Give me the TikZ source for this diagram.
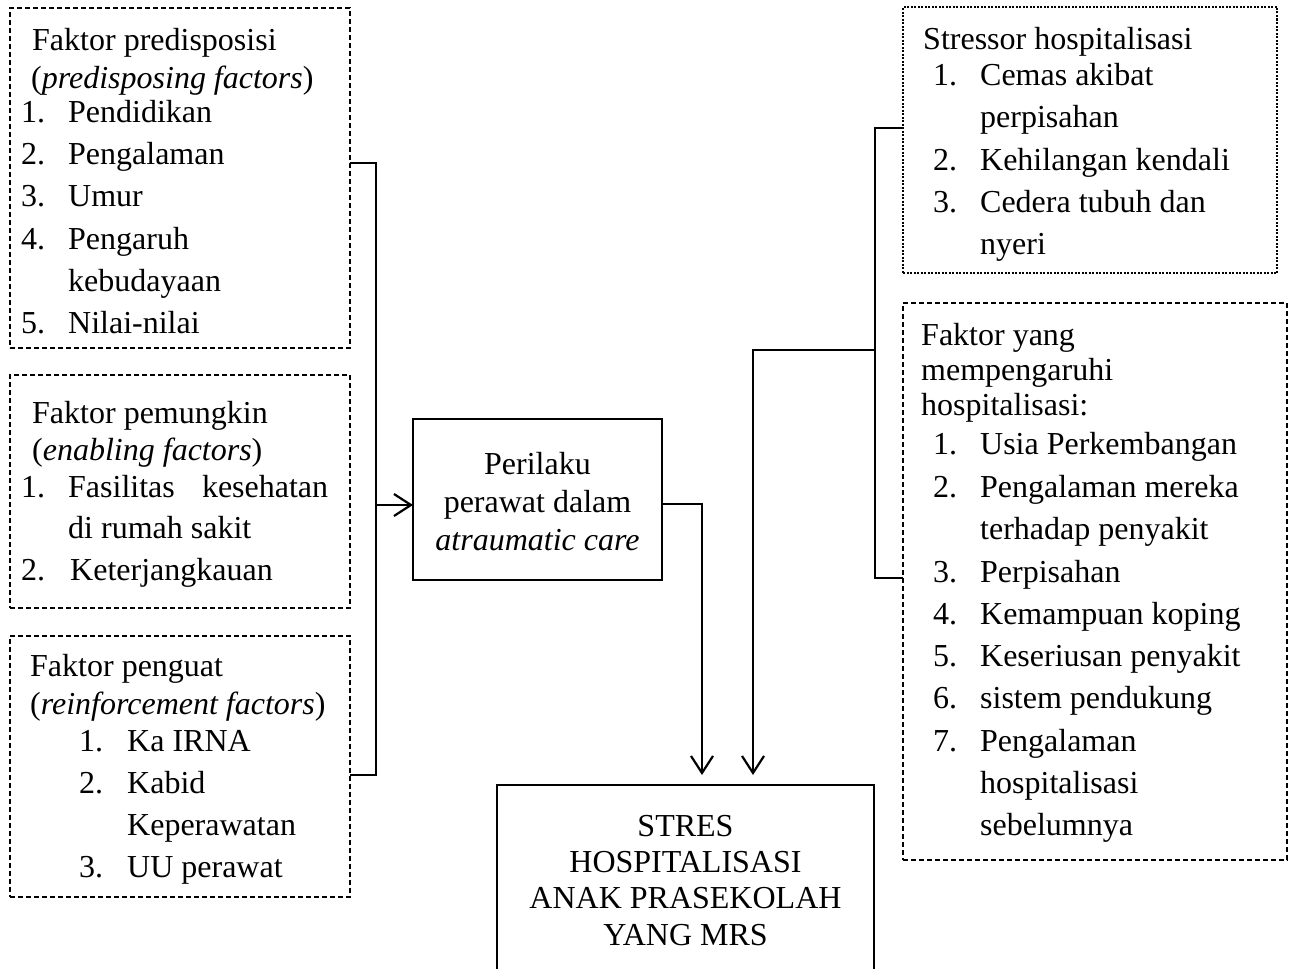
\documentclass[tikz,border=0pt]{standalone}
\usepackage{fontspec}
\setmainfont{Liberation Serif}
\usetikzlibrary{arrows.meta}
\newcommand\Tline[4]{\node[txt] (#1) at (#2,#3) {#4};}
\newcommand\Cline[4]{\node[ctxt] (#1) at (#2,#3) {#4};}
\newcommand\Num[1]{\makebox[47pt][l]{#1}}
\begin{document}
\begin{tikzpicture}[x=1pt,y=-1pt,
  txt/.style={anchor=base west, inner sep=0pt, font=\fontsize{32}{38}\selectfont},
  ctxt/.style={anchor=base, inner sep=0pt, font=\fontsize{32}{38}\selectfont},
  dbox/.style={draw, dash pattern=on 5pt off 3pt, line width=1.2pt, anchor=north west, inner sep=0pt, outer sep=0pt},
  fdbox/.style={draw, dash pattern=on 2pt off 1.5pt, line width=1.1pt, anchor=north west, inner sep=0pt, outer sep=0pt},
  sbox/.style={draw, line width=1.6pt, anchor=north west, inner sep=0pt, outer sep=0pt},
  conn/.style={line width=2.2pt},
  arr/.style={conn, -{Straight Barb[length=17pt,width=22pt]}},
]
\useasboundingbox (0,0) rectangle (1294,969);

% ---- left boxes ----
\node[dbox, minimum width=340pt, minimum height=340pt] (b1) at (10,8) {};
\Tline{a1}{32}{50}{Faktor predisposisi}
\Tline{a2}{31}{88}{(\textit{predisposing factors})}
\Tline{a3}{21}{122}{\Num{1.}Pendidikan}
\Tline{a4}{21}{164}{\Num{2.}Pengalaman}
\Tline{a5}{21}{206}{\Num{3.}Umur}
\Tline{a6}{21}{249}{\Num{4.}Pengaruh}
\Tline{a7}{68}{291}{kebudayaan}
\Tline{a8}{21}{333}{\Num{5.}Nilai-nilai}

\node[dbox, minimum width=340pt, minimum height=233pt] (b2) at (10,375) {};
\Tline{c1}{32}{423}{Faktor pemungkin}
\Tline{c2}{32}{460}{(\textit{enabling factors})}
\Tline{c3}{21}{497}{\Num{1.}\makebox[260pt][s]{Fasilitas\hfill kesehatan}}
\Tline{c4}{68}{538}{di rumah sakit}
\Tline{c5}{21}{580}{\makebox[49pt][l]{2.}Keterjangkauan}

\node[dbox, minimum width=340pt, minimum height=261pt] (b3) at (10,636) {};
\Tline{d1}{30}{676}{Faktor penguat}
\Tline{d2}{30}{714}{(\textit{reinforcement factors})}
\Tline{d3}{79}{751}{\makebox[48pt][l]{1.}Ka IRNA}
\Tline{d4}{79}{793}{\makebox[48pt][l]{2.}Kabid}
\Tline{d5}{127}{835}{Keperawatan}
\Tline{d6}{79}{877}{\makebox[48pt][l]{3.}UU perawat}

% ---- centre boxes ----
\node[sbox, minimum width=249pt, minimum height=161pt] (per) at (413,419) {};
\Cline{p1}{537.5}{474}{Perilaku}
\Cline{p2}{537.5}{512}{perawat dalam}
\Cline{p3}{537.5}{550}{\textit{atraumatic care}}

\begin{scope}
\clip (0,0) rectangle (1294,969);
\node[sbox, minimum width=377pt, minimum height=200pt] (st) at (497,785) {};
\end{scope}
\Cline{s1}{685.5}{836}{STRES}
\Cline{s2}{685.5}{872}{HOSPITALISASI}
\Cline{s3}{685.5}{908}{ANAK PRASEKOLAH}
\Cline{s4}{685.5}{945}{YANG MRS}

% ---- right boxes ----
\node[fdbox, minimum width=374pt, minimum height=266pt] (shx) at (903,7) {};
\Tline{e1}{923}{49}{Stressor hospitalisasi}
\Tline{e2}{933}{85}{\Num{1.}Cemas akibat}
\Tline{e3}{980}{127}{perpisahan}
\Tline{e4}{933}{170}{\Num{2.}Kehilangan kendali}
\Tline{e5}{933}{212}{\Num{3.}Cedera tubuh dan}
\Tline{e6}{980}{254}{nyeri}

\node[dbox, minimum width=384pt, minimum height=557pt] (fyx) at (903,303) {};
\Tline{f1}{921}{345}{Faktor yang}
\Tline{f2}{921}{380}{mempengaruhi}
\Tline{f3}{921}{415}{hospitalisasi:}
\Tline{f4}{933}{454}{\Num{1.}Usia Perkembangan}
\Tline{f5}{933}{497}{\Num{2.}Pengalaman mereka}
\Tline{f6}{980}{539}{terhadap penyakit}
\Tline{f7}{933}{582}{\Num{3.}Perpisahan}
\Tline{f8}{933}{624}{\Num{4.}Kemampuan koping}
\Tline{f9}{933}{666}{\Num{5.}Keseriusan penyakit}
\Tline{f10}{933}{708}{\Num{6.}sistem pendukung}
\Tline{f11}{933}{751}{\Num{7.}Pengalaman}
\Tline{f12}{980}{793}{hospitalisasi}
\Tline{f13}{980}{835}{sebelumnya}

% ---- connectors ----
\coordinate (ja) at (376,163);
\coordinate (jb) at (376,775);
\coordinate (jc) at (376,505);
\draw[conn] (b1.east |- ja) -- (ja) -- (jb) -- (b3.east |- jb);
\draw[arr] (jc) -- (per.west |- jc);

\coordinate (pc) at (702,504);
\coordinate (ta) at (702,775);
\draw[arr] (per.east |- pc) -- (pc) -- (ta);

\coordinate (ra) at (875,128);
\coordinate (rb) at (875,578);
\coordinate (rc) at (875,350);
\coordinate (rd) at (753,350);
\coordinate (tb) at (753,775);
\draw[conn] (shx.west |- ra) -- (ra) -- (rb) -- (fyx.west |- rb);
\draw[arr] (rc) -- (rd) -- (tb);
\end{tikzpicture}
\end{document}
